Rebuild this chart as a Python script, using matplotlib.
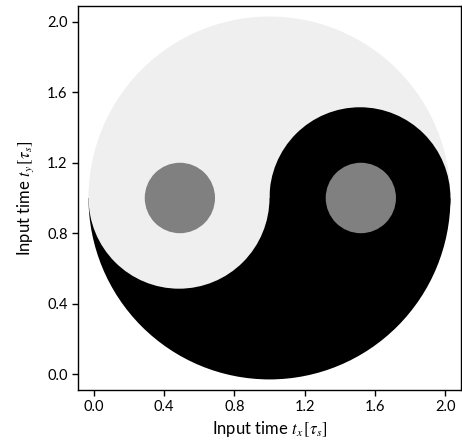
import matplotlib.pyplot as plt
from matplotlib.patches import Circle, Wedge

# disc geometry (data units)
outer_center = (1.0, 1.0)
outer_radius = 1.03
lobe_centers = [(0.485, 1.0), (1.515, 1.0)]
lobe_radius = 0.515
dot_centers = [(0.49, 1.0), (1.52, 1.0)]
dot_radius = 0.2

ticks = [0.0, 0.4, 0.8, 1.2, 1.6, 2.0]
tick_labels = ["0.0", "0.4", "0.8", "1.2", "1.6", "2.0"]

light = "#efefef"
dark = "#000000"
mid = "#808080"

plt.rcParams['font.family'] = ['Lato', 'DejaVu Sans']
plt.rcParams['mathtext.fontset'] = 'stix'

fig = plt.figure(figsize=(4.62, 4.46), dpi=100)
ax = fig.add_axes([0.1688, 0.1256, 0.829, 0.861])

ax.add_patch(Circle(outer_center, outer_radius, color=light, lw=0))
ax.add_patch(Wedge(outer_center, outer_radius, 180, 360, color=dark, lw=0))
ax.add_patch(Circle(lobe_centers[1], lobe_radius, color=dark, lw=0))
ax.add_patch(Circle(lobe_centers[0], lobe_radius, color=light, lw=0))
for c in dot_centers:
    ax.add_patch(Circle(c, dot_radius, color=mid, lw=0))

ax.set_xlim(-0.09, 2.09)
ax.set_ylim(-0.09, 2.09)
ax.set_xticks(ticks)
ax.set_xticklabels(tick_labels)
ax.set_yticks(ticks)
ax.set_yticklabels(tick_labels)
ax.tick_params(direction='out', length=4, width=1, labelsize=10.5)
for s in ax.spines.values():
    s.set_linewidth(1)

ax.set_xlabel(r"Input time $t_x\,[\tau_s]$", fontsize=12, labelpad=3)
ax.set_ylabel(r"Input time $t_y\,[\tau_s]$", fontsize=12, labelpad=8)

fig.savefig("out.png", dpi=100)
